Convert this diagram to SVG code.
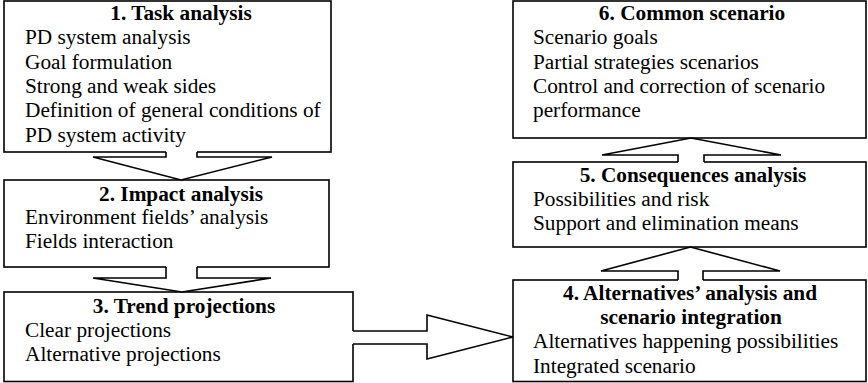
<svg xmlns="http://www.w3.org/2000/svg" width="868" height="383" viewBox="0 0 868 383">
  <style>
    .box { fill: #ffffff; stroke: #000000; stroke-width: 1.6; }
    .arrow-fill { fill: #ffffff; stroke: none; }
    .arrow-line { fill: none; stroke: #000000; stroke-width: 1.6; stroke-linejoin: miter; }
    text { font-family: "Liberation Serif", "Times New Roman", serif; font-size: 21.3px; fill: #000000; }
    .title { font-weight: bold; text-anchor: middle; }
  </style>
  <rect width="868" height="383" fill="#ffffff"/>

  <!-- Left column -->
  <g id="task-analysis">
    <rect class="box" x="4" y="1" width="327" height="151"/>
    <text class="title" x="181" y="20">1. Task analysis</text>
    <text x="25" y="44">PD system analysis</text>
    <text x="25" y="68.5">Goal formulation</text>
    <text x="25" y="93">Strong and weak sides</text>
    <text x="25" y="117">Definition of general conditions of</text>
    <text x="25" y="141.5">PD system activity</text>
  </g>

  <g id="impact-analysis">
    <rect class="box" x="4" y="180" width="325" height="87"/>
    <text class="title" x="181" y="201">2. Impact analysis</text>
    <text x="25" y="224">Environment fields’ analysis</text>
    <text x="25" y="248">Fields interaction</text>
  </g>

  <g id="trend-projections">
    <rect class="box" x="4" y="292" width="349" height="89.5"/>
    <text class="title" x="184" y="313">3. Trend projections</text>
    <text x="25" y="337">Clear projections</text>
    <text x="25" y="361">Alternative projections</text>
  </g>

  <!-- Right column -->
  <g id="alternatives-analysis">
    <rect class="box" x="513" y="280" width="353" height="101.5"/>
    <text class="title" x="690" y="300">4. Alternatives’ analysis and</text>
    <text class="title" x="691" y="324">scenario integration</text>
    <text x="533" y="348">Alternatives happening possibilities</text>
    <text x="533" y="373">Integrated scenario</text>
  </g>

  <g id="consequences-analysis">
    <rect class="box" x="513" y="162" width="353" height="85"/>
    <text class="title" x="693" y="182">5. Consequences analysis</text>
    <text x="533" y="206">Possibilities and risk</text>
    <text x="533" y="230">Support and elimination means</text>
  </g>

  <g id="common-scenario">
    <rect class="box" x="513" y="1" width="353" height="137"/>
    <text class="title" x="692" y="20">6. Common scenario</text>
    <text x="533" y="44">Scenario goals</text>
    <text x="533" y="68.5">Partial strategies scenarios</text>
    <text x="533" y="93">Control and correction of scenario</text>
    <text x="533" y="117">performance</text>
  </g>

  <!-- Block arrows; the white fill opens the box edge where the shaft joins -->
  <g id="connectors">
    <g id="arrow-1-2">
      <polygon class="arrow-fill" points="166,150 166,157 93,157 181,180 272,157 197,157 197,150"/>
      <path class="arrow-line" d="M166,152 V157 H93 L181,180 L272,157 H197 V152"/>
    </g>
    <g id="arrow-2-3">
      <polygon class="arrow-fill" points="166,265 166,278 93,278 182,292 271,278 197,278 197,265"/>
      <path class="arrow-line" d="M166,267 V278 H93 L182,292 L271,278 H197 V267"/>
    </g>
    <g id="arrow-3-4">
      <polygon class="arrow-fill" points="351,331 427,331 427,315 513,337 427,359 427,344 351,344"/>
      <path class="arrow-line" d="M353,331 H427 V315 L513,337 L427,359 V344 H353"/>
    </g>
    <g id="arrow-4-5">
      <polygon class="arrow-fill" points="678,282 678,271 601,271 690.5,247 780,271 703,271 703,282"/>
      <path class="arrow-line" d="M678,280 V271 H601 L690.5,247 L780,271 H703 V280"/>
    </g>
    <g id="arrow-5-6">
      <polygon class="arrow-fill" points="678,164 678,155 602,155 691,138 781,155 704,155 704,164"/>
      <path class="arrow-line" d="M678,162 V155 H602 L691,138 L781,155 H704 V162"/>
    </g>
  </g>
</svg>
